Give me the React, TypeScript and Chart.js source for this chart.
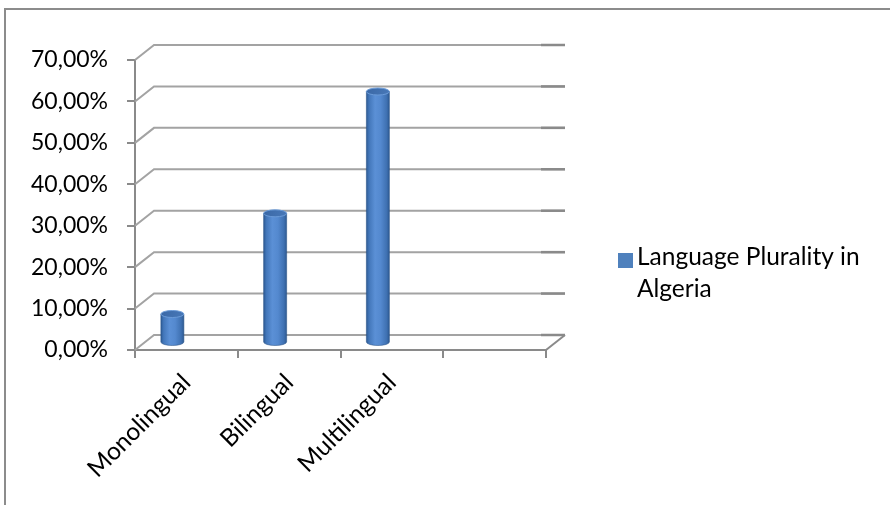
import { useEffect, useRef } from "react";
import { Chart, registerables } from "chart.js";

Chart.register(...registerables);

// ---- data ----
const categories = ["Monolingual", "Bilingual", "Multilingual", ""];
const pluralityShare = [0.07, 0.313, 0.607, null];
const seriesLabel = "Language Plurality in Algeria";
const yTickLabels = ["0,00%", "10,00%", "20,00%", "30,00%", "40,00%", "50,00%", "60,00%", "70,00%"];

// ---- look ----
const FONT_FAMILY = "Lato, 'Open Sans', sans-serif";
const Y_FONT_SIZE = 23;
const TEXT_FONT_SIZE = 24.5;
const GRID = "#a3a3a3";
const GRID_DARK = "#8a8a8a";
const BLUE = "#4f81bd";

// oblique depth of the back wall and of the cylinder row
const WALL_DX = 19;
const WALL_DY = -15;
const BAR_DX = -14;
const BAR_DY = -7;

const framePlugin = {
  id: "frame",
  beforeDraw(chart: any) {
    const { ctx, width, height } = chart;
    ctx.save();
    ctx.strokeStyle = "#8c8c8c";
    ctx.lineWidth = 2;
    ctx.beginPath();
    ctx.moveTo(5, height);
    ctx.lineTo(5, 9);
    ctx.lineTo(width, 9);
    ctx.stroke();
    ctx.restore();
  },
};

const wallPlugin = {
  id: "wall3d",
  beforeDatasetsDraw(chart: any) {
    const { ctx, chartArea, scales } = chart;
    const { left, right, bottom } = chartArea;
    const y = scales.y;
    ctx.save();
    ctx.lineCap = "butt";
    y.ticks.forEach((t: any) => {
      const py = y.getPixelForValue(t.value);
      ctx.strokeStyle = GRID;
      ctx.lineWidth = 2;
      ctx.beginPath();
      ctx.moveTo(left, py);
      ctx.lineTo(left + WALL_DX, py + WALL_DY);
      ctx.lineTo(right + WALL_DX, py + WALL_DY);
      ctx.stroke();
      ctx.strokeStyle = GRID_DARK;
      ctx.lineWidth = 2.5;
      ctx.beginPath();
      ctx.moveTo(right - 5, py + WALL_DY);
      ctx.lineTo(right + WALL_DX, py + WALL_DY);
      ctx.stroke();
    });
    ctx.strokeStyle = GRID_DARK;
    ctx.lineWidth = 2;
    ctx.beginPath();
    ctx.moveTo(right, bottom);
    ctx.lineTo(right + WALL_DX, bottom + WALL_DY);
    ctx.stroke();
    ctx.restore();
  },
};

const cylinderPlugin = {
  id: "cylinders",
  afterDatasetsDraw(chart: any) {
    const { ctx } = chart;
    const meta = chart.getDatasetMeta(0);
    ctx.save();
    meta.data.forEach((bar: any, i: number) => {
      const v = pluralityShare[i];
      if (v === null || v === undefined) return;
      const cx = bar.x + BAR_DX;
      const w = bar.width;
      const rx = w / 2;
      const ry = 3.5;
      const top = bar.y + BAR_DY;
      const base = bar.base + BAR_DY;
      const x0 = cx - rx;
      const x1 = cx + rx;

      const body = ctx.createLinearGradient(x0, 0, x1, 0);
      body.addColorStop(0, "#2d5b95");
      body.addColorStop(0.12, "#4377ba");
      body.addColorStop(0.38, "#5b90d6");
      body.addColorStop(0.62, "#5489cf");
      body.addColorStop(0.88, "#3f71b2");
      body.addColorStop(1, "#2e5a92");

      ctx.beginPath();
      ctx.moveTo(x0, top);
      ctx.lineTo(x0, base);
      ctx.ellipse(cx, base, rx, ry, 0, Math.PI, 0, true);
      ctx.lineTo(x1, top);
      ctx.closePath();
      ctx.fillStyle = body;
      ctx.fill();
      ctx.strokeStyle = "rgba(40,80,135,0.7)";
      ctx.lineWidth = 0.8;
      ctx.stroke();

      const cap = ctx.createLinearGradient(x0, top - ry, x1, top + ry);
      cap.addColorStop(0, "#3a68a6");
      cap.addColorStop(1, "#4878b8");
      ctx.beginPath();
      ctx.ellipse(cx, top, rx, ry, 0, 0, Math.PI * 2);
      ctx.fillStyle = cap;
      ctx.fill();
      ctx.strokeStyle = "#6b9bd8";
      ctx.lineWidth = 1;
      ctx.stroke();
    });
    ctx.restore();
  },
};

const legendPlugin = {
  id: "sideLegend",
  afterDraw(chart: any) {
    const { ctx } = chart;
    const x = 618;
    const yTop = 253;
    const box = 15;
    const lineH = 32;
    const maxW = 240;
    ctx.save();
    ctx.fillStyle = BLUE;
    ctx.fillRect(x, yTop, box, box);
    ctx.font = `${TEXT_FONT_SIZE}px ${FONT_FAMILY}`;
    ctx.fillStyle = "#000";
    ctx.textAlign = "left";
    ctx.textBaseline = "alphabetic";
    const words = seriesLabel.split(" ");
    const lines: string[] = [];
    let cur = "";
    words.forEach((wd) => {
      const test = cur ? cur + " " + wd : wd;
      if (ctx.measureText(test).width > maxW && cur) {
        lines.push(cur);
        cur = wd;
      } else cur = test;
    });
    if (cur) lines.push(cur);
    lines.forEach((ln, k) => ctx.fillText(ln, x + box + 4, yTop + 12 + k * lineH));
    ctx.restore();
  },
};

export default function App() {
  const canvasRef = useRef<HTMLCanvasElement | null>(null);

  useEffect(() => {
    document.body.style.margin = "0";
    const canvas = canvasRef.current;
    if (!canvas) return;
    const chart = new Chart(canvas, {
      type: "bar",
      data: {
        labels: categories,
        datasets: [
          {
            label: seriesLabel,
            data: pluralityShare,
            backgroundColor: "rgba(0,0,0,0)",
            borderWidth: 0,
            barThickness: 23,
          },
        ],
      },
      plugins: [framePlugin, wallPlugin, cylinderPlugin, legendPlugin],
      options: {
        responsive: false,
        animation: false,
        events: [],
        layout: { padding: { top: 60, right: 344, left: 0, bottom: 0 } },
        plugins: {
          legend: { display: false },
          tooltip: { enabled: false },
          title: { display: false },
        },
        scales: {
          x: {
            type: "category",
            offset: true,
            grid: {
              offset: true,
              drawOnChartArea: false,
              drawTicks: true,
              tickLength: 8,
              color: GRID_DARK,
              lineWidth: 2,
            },
            border: { display: true, color: GRID_DARK, width: 2 },
            ticks: {
              autoSkip: false,
              minRotation: 45,
              maxRotation: 45,
              color: "#000",
              font: { family: FONT_FAMILY, size: TEXT_FONT_SIZE },
              padding: 10,
            },
            afterFit(scale: any) {
              scale.height = 155;
            },
          },
          y: {
            min: 0,
            max: 0.7,
            ticks: {
              stepSize: 0.1,
              color: "#000",
              font: { family: FONT_FAMILY, size: Y_FONT_SIZE },
              padding: 19,
              callback: (_v: any, index: number) => yTickLabels[index],
            },
            grid: {
              drawOnChartArea: false,
              drawTicks: true,
              tickLength: 8,
              color: GRID_DARK,
              lineWidth: 2,
            },
            border: { display: true, color: GRID_DARK, width: 2 },
            afterFit(scale: any) {
              scale.width = 135;
            },
          },
        },
      },
    } as any);
    return () => chart.destroy();
  }, []);

  return (
    <div style={{ width: 890, height: 505 }}>
      <canvas ref={canvasRef} width={890} height={505} style={{ display: "block" }} />
    </div>
  );
}
